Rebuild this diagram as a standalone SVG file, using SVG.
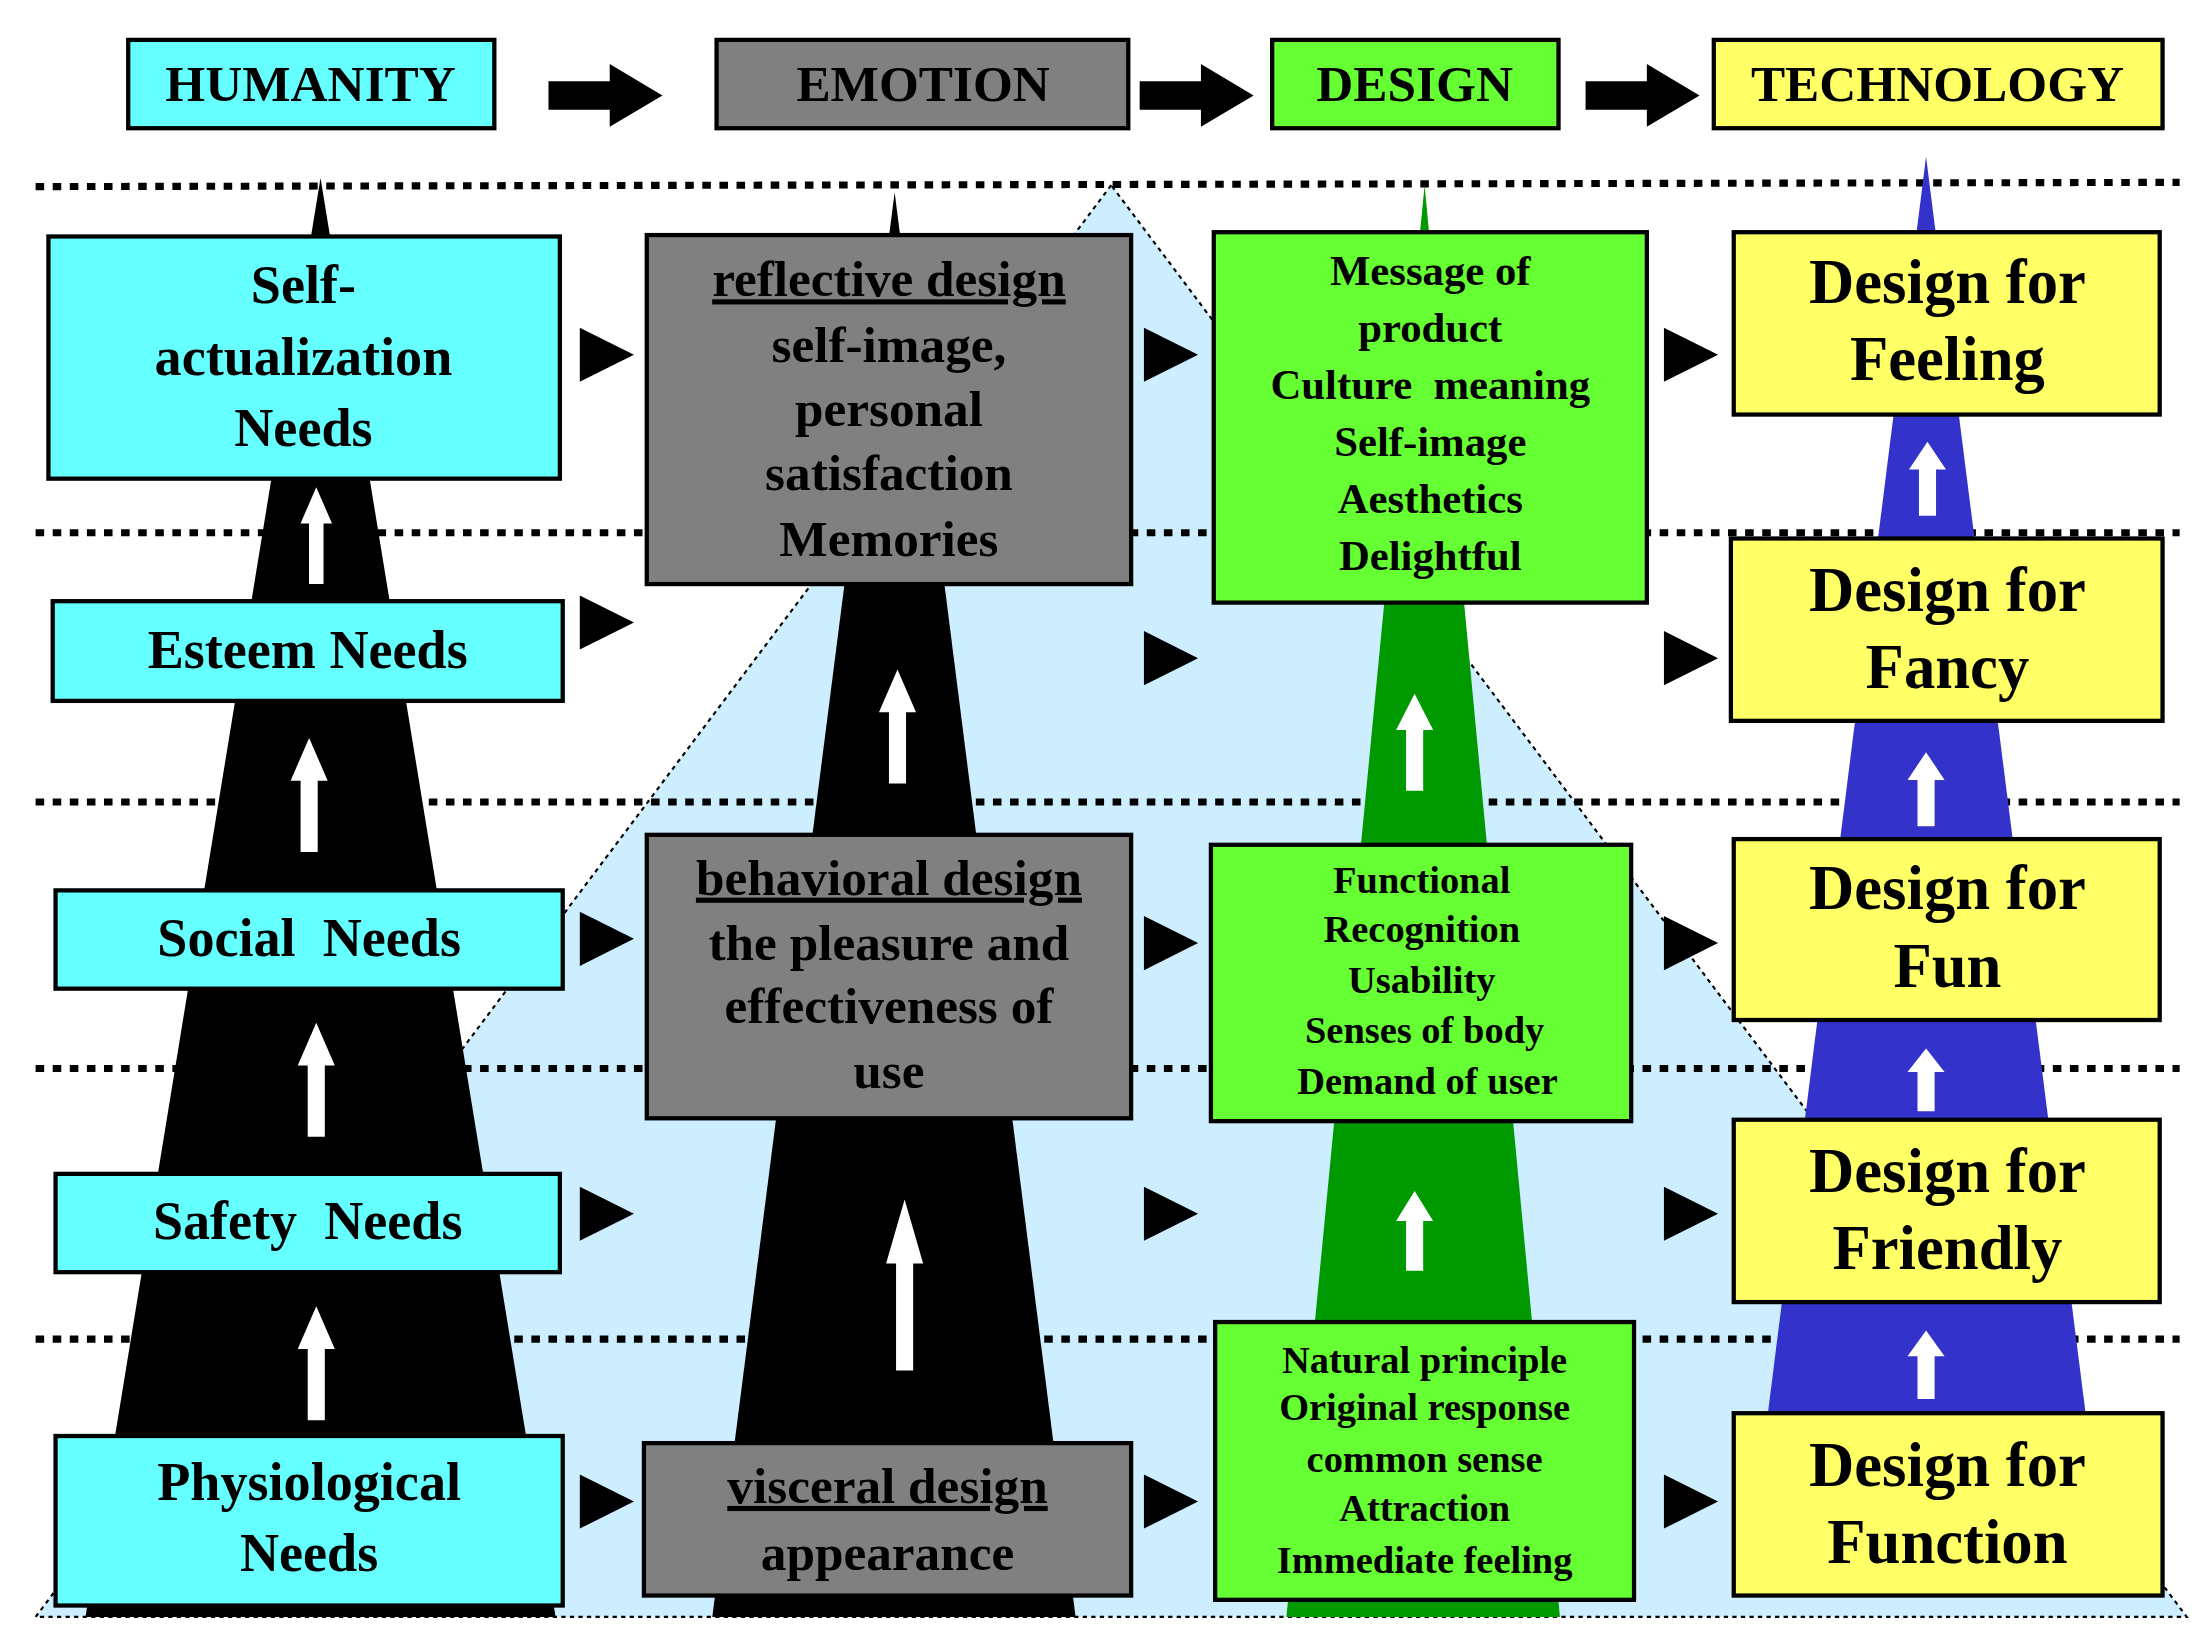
<svg xmlns="http://www.w3.org/2000/svg" width="2211" height="1641" viewBox="0 0 2211 1641">
<defs>
<style>
text{font-family:"Liberation Serif","DejaVu Serif",serif;font-weight:bold;text-anchor:middle;fill:#000}
.b{stroke:#000;stroke-width:3}
.cy{fill:#66ffff}.gr{fill:#808080}.gn{fill:#66ff33}.ye{fill:#ffff66}
.dot{stroke:#000;stroke-width:5;stroke-dasharray:6 6;fill:none}
.wa{fill:#fff}
.h{font-size:36px}.l{font-size:38px}.e{font-size:36px}.d{font-size:30px}.s{font-size:27px}.t{font-size:44px}
</style>
<polygon id="tri" points="0,-19 38,0 0,19" fill="#000"/>
<path id="wu" d="M-6,0 V-50 H-13 L0,-80 L13,-50 H6 V0 Z" fill="#fff"/>
</defs>
<rect width="2211" height="1641" fill="#fff"/>
<g transform="scale(1.4246)">
<g id="background">
<polygon points="780,130 25,1135 1535,1135" fill="#cceeff" stroke="#000" stroke-width="1.5" stroke-dasharray="3 3"/>
<g class="dot">
<line x1="25" y1="131" x2="1530" y2="128"/>
<line x1="25" y1="374" x2="1530" y2="374"/>
<line x1="25" y1="563" x2="1530" y2="563"/>
<line x1="25" y1="750" x2="1530" y2="750"/>
<line x1="25" y1="940" x2="1530" y2="940"/>
</g>
<polygon points="225,125 60,1135 390,1135" fill="#000"/>
<polygon points="628,135 500,1135 755,1135" fill="#000"/>
<polygon points="1000,130 903,1135 1095,1135" fill="#009900"/>
<polygon points="1352,110 1240,1000 1465,1000" fill="#3333cc"/>
<use href="#wu" transform="translate(222,410) scale(0.85)"/>
<use href="#wu" transform="translate(217,598)"/>
<use href="#wu" transform="translate(222,798)"/>
<use href="#wu" transform="translate(222,997)"/>
<use href="#wu" transform="translate(630,550)"/>
<use href="#wu" transform="translate(635,962) scale(1,1.5)"/>
<use href="#wu" transform="translate(993,555) scale(1,0.85)"/>
<use href="#wu" transform="translate(993,892) scale(1,0.7)"/>
<use href="#wu" transform="translate(1353,362) scale(1,0.65)"/>
<use href="#wu" transform="translate(1352,580) scale(1,0.65)"/>
<use href="#wu" transform="translate(1352,780) scale(1,0.55)"/>
<use href="#wu" transform="translate(1352,982) scale(1,0.6)"/>
</g>
<g id="connectors">
<path d="M385,57 H428 V45 L465,67 L428,89 V77 H385 Z" fill="#000"/>
<path d="M800,57 H843 V45 L880,67 L843,89 V77 H800 Z" fill="#000"/>
<path d="M1113,57 H1156 V45 L1193,67 L1156,89 V77 H1113 Z" fill="#000"/>
<use href="#tri" x="407" y="249"/><use href="#tri" x="407" y="437"/><use href="#tri" x="407" y="659"/><use href="#tri" x="407" y="852"/><use href="#tri" x="407" y="1054"/>
<use href="#tri" x="803" y="249"/><use href="#tri" x="803" y="462"/><use href="#tri" x="803" y="662"/><use href="#tri" x="803" y="852"/><use href="#tri" x="803" y="1054"/>
<use href="#tri" x="1168" y="249"/><use href="#tri" x="1168" y="462"/><use href="#tri" x="1168" y="662"/><use href="#tri" x="1168" y="852"/><use href="#tri" x="1168" y="1054"/>
</g>
<g id="h-humanity"><rect class="b cy" x="90" y="28" width="257" height="62"/><text class="h" x="218" y="71">HUMANITY</text></g>
<g id="h-emotion"><rect class="b gr" x="503" y="28" width="289" height="62"/><text class="h" x="648" y="71">EMOTION</text></g>
<g id="h-design"><rect class="b gn" x="893" y="28" width="201" height="62"/><text class="h" x="993" y="71">DESIGN</text></g>
<g id="h-tech"><rect class="b ye" x="1203" y="28" width="315" height="62"/><text class="h" x="1360" y="71">TECHNOLOGY</text></g>
<g id="n-self"><rect class="b cy" x="34" y="166" width="359" height="170"/><text class="l" x="213" y="213">Self-</text><text class="l" x="213" y="263">actualization</text><text class="l" x="213" y="313">Needs</text></g>
<g id="n-esteem"><rect class="b cy" x="37" y="422" width="358" height="70"/><text class="l" x="216" y="469">Esteem Needs</text></g>
<g id="n-social"><rect class="b cy" x="39" y="625" width="356" height="69"/><text class="l" x="217" y="671" xml:space="preserve">Social  Needs</text></g>
<g id="n-safety"><rect class="b cy" x="39" y="824" width="354" height="69"/><text class="l" x="216" y="870" xml:space="preserve">Safety  Needs</text></g>
<g id="n-phys"><rect class="b cy" x="39" y="1008" width="356" height="119"/><text class="l" x="217" y="1053">Physiological</text><text class="l" x="217" y="1103">Needs</text></g>
<g id="n-reflective"><rect class="b gr" x="454" y="165" width="340" height="245"/><text class="e" x="624" y="208" text-decoration="underline">reflective design</text><text class="e" x="624" y="254">self-image,</text><text class="e" x="624" y="299">personal</text><text class="e" x="624" y="344">satisfaction</text><text class="e" x="624" y="390">Memories</text></g>
<g id="n-behavioral"><rect class="b gr" x="454" y="586" width="340" height="199"/><text class="e" x="624" y="628" text-decoration="underline">behavioral design</text><text class="e" x="624" y="674">the pleasure and</text><text class="e" x="624" y="718">effectiveness of</text><text class="e" x="624" y="764">use</text></g>
<g id="n-visceral"><rect class="b gr" x="452" y="1013" width="342" height="107"/><text class="e" x="623" y="1055" text-decoration="underline">visceral design</text><text class="e" x="623" y="1102">appearance</text></g>
<g id="n-d1"><rect class="b gn" x="852" y="163" width="304" height="260"/><text class="d" x="1004" y="200">Message of</text><text class="d" x="1004" y="240">product</text><text class="d" x="1004" y="280" xml:space="preserve">Culture  meaning</text><text class="d" x="1004" y="320">Self-image</text><text class="d" x="1004" y="360">Aesthetics</text><text class="d" x="1004" y="400">Delightful</text></g>
<g id="n-d2"><rect class="b gn" x="850" y="593" width="295" height="194"/><text class="s" x="998" y="627">Functional</text><text class="s" x="998" y="661">Recognition</text><text class="s" x="998" y="697">Usability</text><text class="s" x="1000" y="732">Senses of body</text><text class="s" x="1002" y="768">Demand of user</text></g>
<g id="n-d3"><rect class="b gn" x="853" y="928" width="294" height="195"/><text class="s" x="1000" y="964">Natural principle</text><text class="s" x="1000" y="997">Original response</text><text class="s" x="1000" y="1033">common sense</text><text class="s" x="1000" y="1068">Attraction</text><text class="s" x="1000" y="1104">Immediate feeling</text></g>
<g id="n-t1"><rect class="b ye" x="1217" y="163" width="299" height="128"/><text class="t" x="1367" y="213">Design for</text><text class="t" x="1367" y="267">Feeling</text></g>
<g id="n-t2"><rect class="b ye" x="1215" y="378" width="303" height="128"/><text class="t" x="1367" y="429">Design for</text><text class="t" x="1367" y="483">Fancy</text></g>
<g id="n-t3"><rect class="b ye" x="1217" y="589" width="299" height="127"/><text class="t" x="1367" y="638">Design for</text><text class="t" x="1367" y="693">Fun</text></g>
<g id="n-t4"><rect class="b ye" x="1217" y="786" width="299" height="128"/><text class="t" x="1367" y="837">Design for</text><text class="t" x="1367" y="891">Friendly</text></g>
<g id="n-t5"><rect class="b ye" x="1217" y="992" width="301" height="128"/><text class="t" x="1367" y="1043">Design for</text><text class="t" x="1367" y="1097">Function</text></g>
</g>
</svg>
